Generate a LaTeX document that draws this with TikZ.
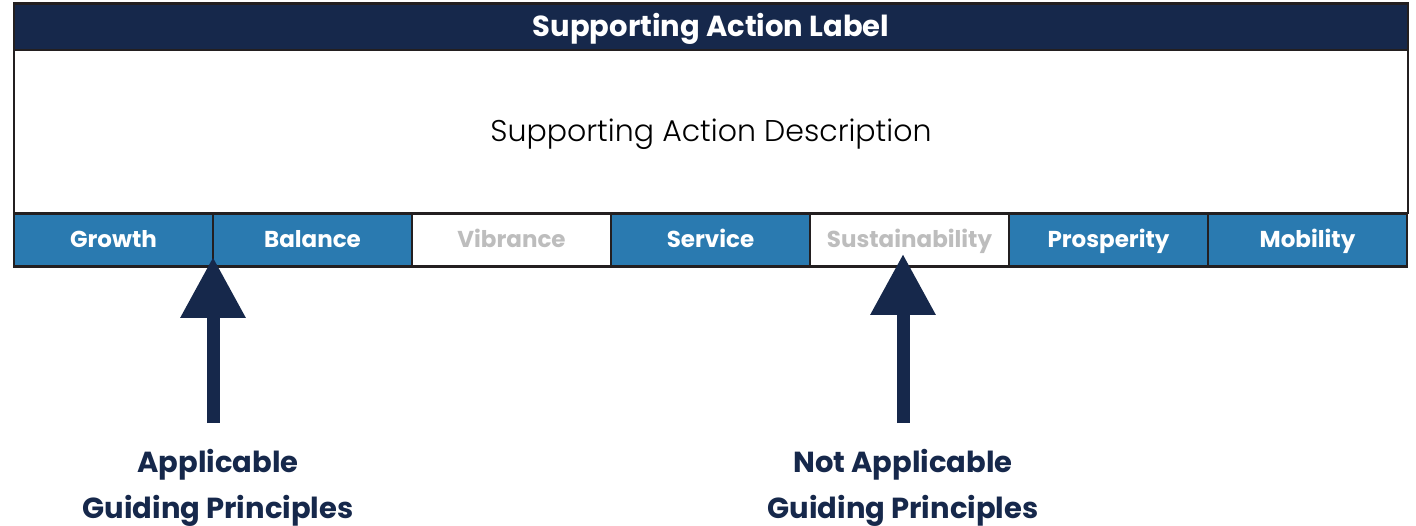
\documentclass[tikz,border=0pt]{standalone}
\usepackage{fontspec}
\setmainfont{Poppins}
\newfontfamily\lightfont{Poppins Light}
\usetikzlibrary{arrows.meta}
\definecolor{navy}{HTML}{16284B}
\definecolor{cellblue}{HTML}{2A7AB0}
\definecolor{offgray}{HTML}{BDBDBD}
\definecolor{edge}{HTML}{231F20}

\begin{document}
\begin{tikzpicture}[x=1pt, y=-1pt,
    box/.style={draw=edge, line width=2.5pt, inner sep=0pt, text depth=0pt},
    cell/.style={box, minimum width=199pt, minimum height=53pt, text height=16pt,
      font=\bfseries\fontsize{23}{26}\selectfont},
    on/.style={cell, fill=cellblue, text=white},
    off/.style={cell, fill=white, text=offgray},
    bigarrow/.style={navy, line width=13pt, -{Triangle[width=62pt, length=61pt]}},
    caption/.style={align=center, text=navy, font=\bfseries\fontsize{29}{46}\selectfont}]
  \useasboundingbox (0,0) rectangle (1416,526);

  % header and description
  \node[box, fill=navy, text=white, minimum width=1394pt, minimum height=47pt, text height=20pt,
    font=\bfseries\fontsize{29}{32}\selectfont] (head) at (711,27) {Supporting Action Label};
  \node[box, fill=white, minimum width=1394pt, minimum height=163pt, text height=21pt,
    font=\lightfont\fontsize{30}{34}\selectfont] (desc) at (711,131.5) {Supporting Action Description};

  % guiding principles
  \foreach \p/\s [count=\n] in {Growth/on, Balance/on, Vibrance/off, Service/on,
      Sustainability/off, Prosperity/on, Mobility/on} {
    \node[\s] (c\n) at ({14+199*\n-99.5},240) {\p};
  }

  % arrows
  \coordinate (tip1) at (213,257);
  \coordinate (tip2) at (903,254);
  \coordinate (base1) at (213,423);
  \coordinate (base2) at (903,423);
  \draw[bigarrow] (base1) -- (tip1);
  \draw[bigarrow] (base2) -- (tip2);

  % captions
  \node[caption] (app) at (218,488) {Applicable\\Guiding Principles};
  \node[caption] (notapp) at (903,488) {Not Applicable\\Guiding Principles};
\end{tikzpicture}
\end{document}
